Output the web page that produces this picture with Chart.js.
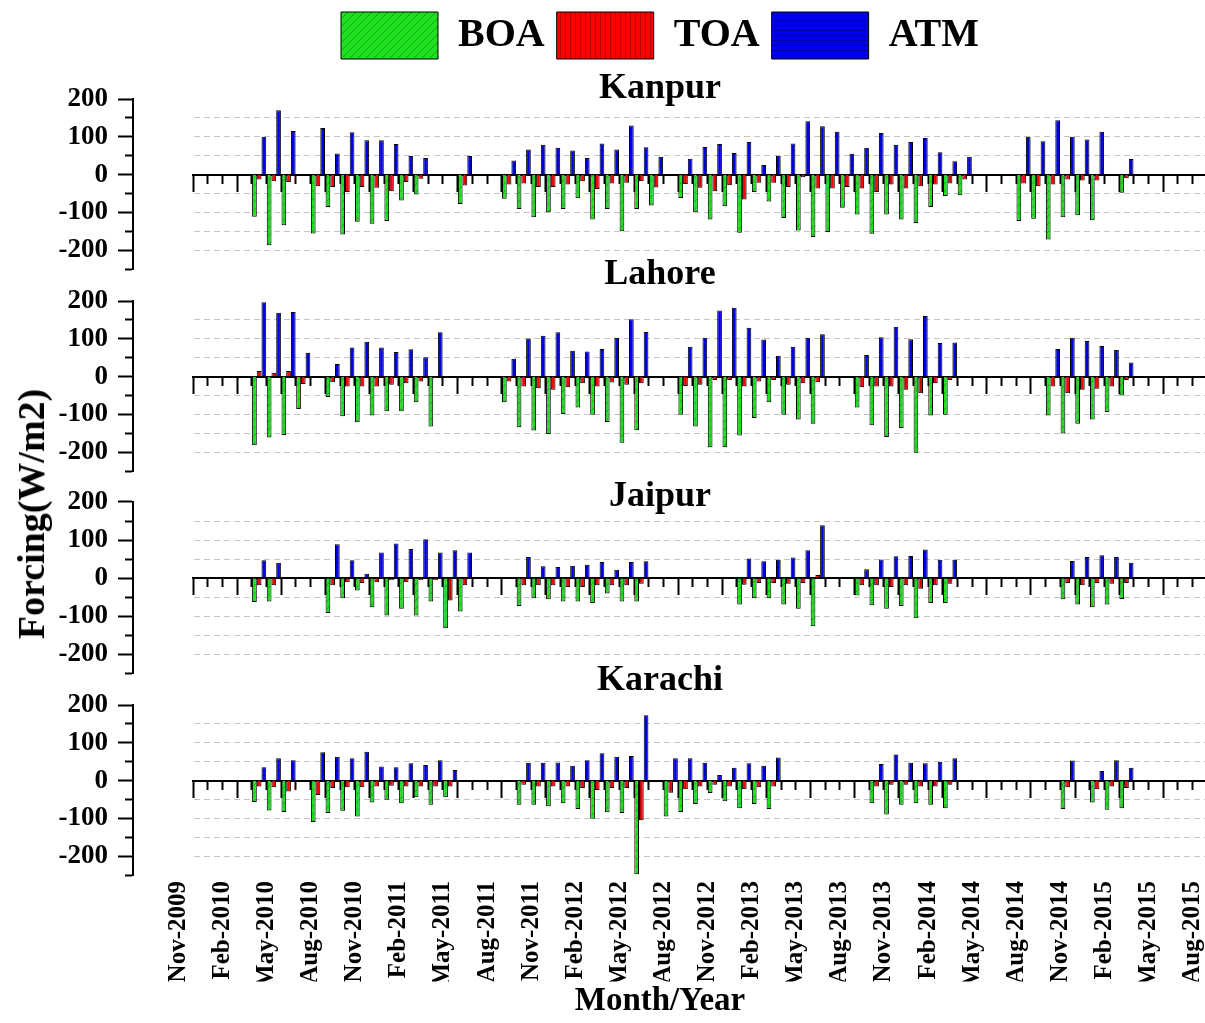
<!DOCTYPE html>
<html>
<head>
<meta charset="utf-8">
<script src="https://cdn.jsdelivr.net/npm/chart.js@4"></script>
<style>
  html, body { margin: 0; padding: 0; background: #fff; width: 1205px; height: 1023px; overflow: hidden; }
  canvas { position: absolute; left: 0; }
  #ytitle {
    position: absolute; left: 31px; top: 514px;
    transform: translate(-50%, -50%) rotate(-90deg);
    font: bold 38px 'Liberation Serif', 'Times New Roman', serif;
    white-space: nowrap; color: #000;
  }
</style>
</head>
<body>
<canvas id="kanpur" width="1320" height="299" style="top:0px"></canvas>
<canvas id="lahore" width="1320" height="251" style="top:250px"></canvas>
<canvas id="jaipur" width="1320" height="231" style="top:472px"></canvas>
<canvas id="karachi" width="1320" height="368" style="top:655px"></canvas>
<div id="ytitle">Forcing(W/m2)</div>
<script>
const _ = null;

// one category per month, Nov-2009 .. Aug-2015
const months = [
  'Nov-2009','Dec-2009','Jan-2010','Feb-2010','Mar-2010','Apr-2010','May-2010','Jun-2010','Jul-2010','Aug-2010',
  'Sep-2010','Oct-2010','Nov-2010','Dec-2010','Jan-2011','Feb-2011','Mar-2011','Apr-2011','May-2011','Jun-2011',
  'Jul-2011','Aug-2011','Sep-2011','Oct-2011','Nov-2011','Dec-2011','Jan-2012','Feb-2012','Mar-2012','Apr-2012',
  'May-2012','Jun-2012','Jul-2012','Aug-2012','Sep-2012','Oct-2012','Nov-2012','Dec-2012','Jan-2013','Feb-2013',
  'Mar-2013','Apr-2013','May-2013','Jun-2013','Jul-2013','Aug-2013','Sep-2013','Oct-2013','Nov-2013','Dec-2013',
  'Jan-2014','Feb-2014','Mar-2014','Apr-2014','May-2014','Jun-2014','Jul-2014','Aug-2014','Sep-2014','Oct-2014',
  'Nov-2014','Dec-2014','Jan-2015','Feb-2015','Mar-2015','Apr-2015','May-2015','Jun-2015','Jul-2015','Aug-2015'
];
const tickLabels = [
  'Nov-2009','Feb-2010','May-2010','Aug-2010','Nov-2010','Feb-2011','May-2011','Aug-2011',
  'Nov-2011','Feb-2012','May-2012','Aug-2012','Nov-2012','Feb-2013','May-2013','Aug-2013',
  'Nov-2013','Feb-2014','May-2014','Aug-2014','Nov-2014','Feb-2015','May-2015','Aug-2015'
];
const yTicks = [-200, -100, 0, 100, 200];

// Kanpur
const kanpurBOA = [
  _,_,_,_,-112,-187,-134,_,-156,-86,
  -159,-125,-130,-123,-69,-53,_,_,-78,_,
  _,-64,-91,-113,-100,-91,-63,-119,-91,-150,
  -91,-82,_,-62,-100,-119,-84,-154,-46,-71,
  -115,-148,-165,-152,-88,-106,-157,-106,-119,-128,
  -86,-57,-55,_,_,_,-123,-117,-172,-113,
  -108,-121,_,-48,_,_,_,_,_,_
];
const kanpurTOA = [
  _,_,_,_,-13,-18,-20,_,-31,-33,
  -46,-33,-35,-44,-20,-11,_,_,-29,_,
  _,-26,-24,-33,-33,-26,-18,-38,-24,-22,
  -18,-34,_,-25,-35,-44,-28,-66,-22,-22,
  -33,-7,-37,-37,-33,-37,-46,-26,-37,-31,
  -26,-24,-13,_,_,_,-24,-31,-26,-13,
  -16,-16,_,-10,_,_,_,_,_,_
];
const kanpurATM = [
  _,_,_,_,100,170,115,_,123,56,
  112,91,91,81,49,44,_,_,49,_,
  _,37,66,79,71,64,44,82,66,130,
  72,47,_,42,73,81,57,86,25,50,
  82,141,128,113,55,71,110,79,86,97,
  59,35,47,_,_,_,100,88,144,100,
  93,113,_,41,_,_,_,_,_,_
];

// Lahore
const lahoreBOA = [
  _,_,_,_,-182,-161,-155,-86,_,-54,
  -105,-121,-103,-92,-92,-68,-132,_,_,_,
  _,-68,-134,-143,-152,-99,-82,-101,-120,-175,
  -142,_,_,-101,-132,-187,-187,-156,-110,-68,
  -101,-114,-125,_,_,-82,-129,-160,-136,-202,
  -103,-101,_,_,_,_,_,_,-103,-151,
  -125,-114,-94,-50,_,_,_,_,_,_
];
const lahoreTOA = [
  _,_,_,_,15,10,15,-20,_,-15,
  -26,-26,-26,-22,-18,-13,-4,_,_,_,
  _,-13,-26,-31,-35,-28,-18,-26,-16,-22,
  -18,_,_,-25,-22,-9,-9,-26,-13,-9,
  -22,-18,-15,_,_,-28,-26,-26,-35,-44,
  -18,-9,_,_,_,_,_,_,-26,-44,
  -35,-32,-26,-9,_,_,_,_,_,_
];
const lahoreATM = [
  _,_,_,_,197,169,171,63,_,33,
  77,92,77,65,72,51,117,_,_,_,
  _,47,101,108,117,68,66,73,103,152,
  118,_,_,79,103,175,182,129,98,55,
  79,103,112,_,_,57,104,132,99,160,
  89,90,_,_,_,_,_,_,73,103,
  94,81,70,37,_,_,_,_,_,_
];

// Jaipur
const jaipurBOA = [
  _,_,_,_,-63,-62,_,_,_,-92,
  -53,-33,-77,-99,-81,-99,-62,-132,-88,_,
  _,_,-74,-53,-56,-62,-62,-66,-41,-62,
  -62,_,_,_,_,_,_,-70,-53,-53,
  -70,-81,-127,_,_,-46,-72,-81,-74,-106,
  -66,-66,_,_,_,_,_,_,_,-56,
  -70,-77,-70,-55,_,_,_,_,_,_
];
const jaipurTOA = [
  _,_,_,_,-19,-19,_,_,_,-19,
  -11,-13,-11,-6,-11,-6,-6,-59,-19,_,
  _,_,-19,-19,-19,-24,-24,-19,-19,-19,
  -15,_,_,_,_,_,_,-18,-13,-13,
  -15,-13,8,_,_,-19,-19,-24,-19,-28,
  -19,-15,_,_,_,_,_,_,_,-13,
  -19,-13,-15,-13,_,_,_,_,_,_
];
const jaipurATM = [
  _,_,_,_,47,40,_,_,_,89,
  47,11,67,91,76,102,67,73,67,_,
  _,_,55,31,29,32,35,42,22,42,
  44,_,_,_,_,_,_,51,44,48,
  54,73,139,_,_,23,49,57,58,75,
  48,48,_,_,_,_,_,_,_,45,
  55,60,55,40,_,_,_,_,_,_
];

// Karachi
const karachiBOA = [
  _,_,_,_,-57,-79,-83,_,-110,-86,
  -80,-95,-58,-51,-60,-44,-64,-44,_,_,
  _,_,-64,-64,-68,-60,-75,-101,-84,-86,
  -248,_,-95,-83,-62,-33,-55,-73,-62,-75,
  _,_,_,_,_,_,-60,-90,-64,-60,
  -64,-73,_,_,_,_,_,_,_,-75,
  _,-58,-77,-73,_,_,_,_,_,_
];
const karachiTOA = [
  _,_,_,_,-16,-18,-29,_,-38,-20,
  -18,-18,-16,-14,-16,-16,-16,-16,_,_,
  _,_,-11,-16,-16,-16,-20,-25,-20,-20,
  -105,_,-32,-23,-16,-11,-16,-23,-18,-16,
  _,_,_,_,_,_,-16,-11,-11,-16,
  -16,-11,_,_,_,_,_,_,_,-18,
  _,-23,-16,-20,_,_,_,_,_,_
];
const karachiATM = [
  _,_,_,_,35,59,54,_,75,63,
  59,76,37,35,46,41,54,28,_,_,
  _,_,47,47,48,39,54,72,63,65,
  173,_,59,59,47,15,34,46,39,61,
  _,_,_,_,_,_,44,69,47,46,
  50,59,_,_,_,_,_,_,_,53,
  _,25,54,34,_,_,_,_,_,_
];

Chart.defaults.font.family = "'Liberation Serif', 'Times New Roman', serif";
Chart.defaults.color = '#000';

function hatch(w, base, line, draw) {
  const c = document.createElement('canvas');
  c.width = w; c.height = w;
  const g = c.getContext('2d');
  g.fillStyle = base;
  g.fillRect(0, 0, w, w);
  g.strokeStyle = line;
  g.lineWidth = 1;
  g.beginPath();
  draw(g, w);
  g.stroke();
  return g.createPattern(c, 'repeat');
}
const greenFill = hatch(8, '#1ee01e', '#14a814', (g, w) => { g.moveTo(-1, w + 1); g.lineTo(w + 1, -1); });
const redFill = hatch(5, '#ff0000', '#c00000', (g, w) => { g.moveTo(0.5, 0); g.lineTo(0.5, w); });
const blueFill = hatch(5, '#0000ee', '#0000a8', (g, w) => { g.moveTo(0, 0.5); g.lineTo(w, 0.5); });

const bars = (label, data, fill) => ({
  label, data,
  backgroundColor: fill,
  borderColor: '#000',
  borderWidth: 1,
  categoryPercentage: 0.96,
  barPercentage: 1,
  xAxisID: 'x',
  yAxisID: 'y'
});

// empty axis used only to reserve horizontal room
const spacer = (position, width) => ({
  type: 'linear', position, weight: 0,
  afterFit: (a) => { a.width = width; },
  grid: { display: false, drawTicks: false },
  border: { display: false },
  ticks: { display: false }
});

function makeScales(bottomLabels) {
  const scales = {
    y: {
      type: 'linear', position: 'left', weight: 10,
      min: -250, max: 200, stacked: false,
      afterFit: (a) => { a.width = 133; },
      ticks: {
        stepSize: 50, padding: 10, color: '#000', autoSkip: false,
        font: { size: 27, weight: 'bold' },
        callback: (v) => yTicks.includes(v) ? String(v) : ''
      },
      grid: {
        color: (c) => {
          const v = c.tick ? c.tick.value : 0;
          return (v === 200 || v === -250 || v === 0) ? 'rgba(0,0,0,0)' : '#c4c4c4';
        },
        lineWidth: 1,
        tickLength: 15, tickWidth: 2, tickColor: '#000',
        tickBorderDash: (c) => (c.tick && yTicks.includes(c.tick.value)) ? [] : [0, 7, 9, 40]
      },
      border: { display: true, color: '#000', width: 2, dash: [6, 4] }
    },
    yPadL: spacer('left', 60),
    yPadR: spacer('right', 98),
    x: {
      type: 'category', position: { y: 0 }, offset: true,
      grid: {
        offset: true, drawOnChartArea: false,
        tickLength: 16, tickWidth: 2, tickColor: '#000',
        tickBorderDash: (c) => c.index % 3 === 0 ? [] : [8, 40]
      },
      border: { display: true, color: '#000', width: 2 },
      ticks: { display: false }
    }
  };
  if (bottomLabels) {
    scales.x2 = {
      type: 'category', position: 'bottom', axis: 'x', offset: true,
      afterFit: (a) => { a.height = 106.4; },
      grid: { display: false, drawTicks: false, offset: true },
      border: { display: false },
      ticks: {
        autoSkip: false, minRotation: 90, maxRotation: 90,
        labelOffset: -22, padding: 6, color: '#000',
        font: { size: 25, weight: 'bold' },
        callback: (v, i) => i % 3 === 0 ? tickLabels[i / 3] : ''
      }
    };
  }
  return scales;
}

function panel(id, name, boa, toa, atm, opt) {
  return new Chart(document.getElementById(id), {
    type: 'bar',
    data: {
      labels: months,
      datasets: [bars('BOA', boa, greenFill), bars('TOA', toa, redFill), bars('ATM', atm, blueFill)]
    },
    options: {
      responsive: false,
      devicePixelRatio: 1,
      animation: false,
      events: [],
      layout: { padding: { left: 0, right: 0, top: 0, bottom: opt.bottom } },
      scales: makeScales(opt.bottomLabels),
      plugins: {
        tooltip: { enabled: false },
        legend: {
          display: !!opt.legend,
          position: 'top',
          labels: {
            boxWidth: 97, boxHeight: 47, padding: 12, color: '#000',
            font: { size: 40, weight: 'bold' }
          }
        },
        title: {
          display: true, text: name, weight: 500, color: '#000',
          font: { size: 36, weight: 'bold' },
          padding: opt.titlePad
        },
        subtitle: {
          display: !!opt.bottomLabels, text: 'Month/Year', position: 'bottom', color: '#000',
          font: { size: 33, weight: 'bold' },
          padding: { top: 0, bottom: 2 }
        }
      }
    }
  });
}

panel('kanpur', 'Kanpur', kanpurBOA, kanpurTOA, kanpurATM,
  { legend: true, titlePad: { top: -2, bottom: -11.2 }, bottom: 30 });
panel('lahore', 'Lahore', lahoreBOA, lahoreTOA, lahoreATM,
  { titlePad: { top: 3.4, bottom: 4.4 }, bottom: 30 });
panel('jaipur', 'Jaipur', jaipurBOA, jaipurTOA, jaipurATM,
  { titlePad: { top: 3.4, bottom: -16.6 }, bottom: 30 });
panel('karachi', 'Karachi', karachiBOA, karachiTOA, karachiATM,
  { titlePad: { top: 4.4, bottom: 2.4 }, bottom: 0, bottomLabels: true });
</script>
</body>
</html>
